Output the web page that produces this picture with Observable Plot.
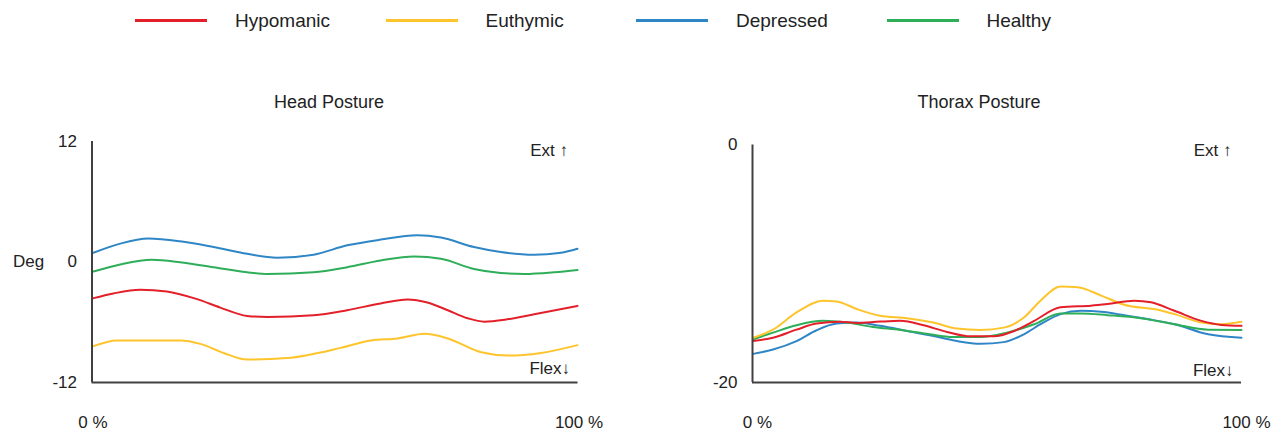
<!DOCTYPE html>
<html>
<head>
<meta charset="utf-8">
<script src="https://cdn.jsdelivr.net/npm/d3@7"></script>
<script src="https://cdn.jsdelivr.net/npm/@observablehq/plot@0.6"></script>
<style>
  html, body { margin: 0; padding: 0; background: #fff; }
  body { width: 1272px; height: 433px; position: relative; overflow: hidden;
         font-family: "Liberation Sans", Arial, sans-serif; color: #222; }
  #legend { position: absolute; left: 0; top: 0; width: 1272px; height: 40px; }
  .item { position: absolute; top: 9px; height: 24px; }
  .swatch { position: absolute; top: 10px; width: 72px; height: 3px; }
  .label { position: absolute; left: 100px; top: 0; font-size: 19px; line-height: 24px; white-space: nowrap; }
  #head { position: absolute; left: 0; top: 80px; }
  #thorax { position: absolute; left: 636px; top: 80px; }
</style>
</head>
<body>
<div id="legend"></div>
<div id="head"></div>
<div id="thorax"></div>
<script>
// Groups and their line colours
const groups = ["Hypomanic", "Euthymic", "Depressed", "Healthy"];
const groupColors = ["#e3202a", "#fdc42c", "#2f86c6", "#2fae5a"];

// Gait cycle (%) vs. angle (deg) — head posture
const headHypomanic = [[0.3,-3.60],[4.4,-3.13],[9.9,-2.76],[15.4,-2.93],[21.6,-3.70],[26.4,-4.54],[31.9,-5.37],[36.1,-5.47],[45.6,-5.30],[52.5,-4.80],[59.4,-4.13],[64.9,-3.73],[69.0,-4.03],[73.2,-4.80],[77.3,-5.60],[80.7,-5.94],[85.5,-5.70],[91.0,-5.20],[99.9,-4.37]];
const headEuthymic = [[0.3,-8.38],[5.1,-7.81],[18.1,-7.81],[22.3,-8.15],[27.1,-9.06],[31.9,-9.72],[40.2,-9.56],[51.2,-8.55],[57.4,-7.81],[62.9,-7.61],[68.4,-7.15],[73.2,-7.61],[80.1,-8.99],[85.6,-9.32],[92.4,-9.06],[99.9,-8.28]];
const headDepressed = [[0.3,0.92],[5.8,1.83],[11.6,2.33],[18.1,2.06],[25.0,1.49],[31.9,0.82],[38.1,0.42],[45.6,0.72],[52.5,1.66],[59.4,2.23],[66.9,2.66],[71.8,2.43],[78.6,1.49],[84.1,0.99],[91.0,0.72],[96.5,0.92],[99.9,1.32]];
const headHealthy = [[0.3,-0.95],[5.8,-0.25],[12.3,0.22],[18.1,-0.02],[25.0,-0.52],[31.9,-1.02],[36.1,-1.19],[45.6,-1.02],[52.5,-0.52],[59.4,0.15],[66.3,0.55],[71.8,0.32],[78.6,-0.69],[84.1,-1.09],[88.9,-1.19],[95.1,-1.02],[99.9,-0.79]];

// Gait cycle (%) vs. angle (deg) — thorax posture
const thoraxHypomanic = [[0.1,-16.51],[4.2,-16.23],[9.0,-15.55],[13.1,-15.04],[17.9,-14.89],[21.3,-14.98],[26.1,-14.87],[30.2,-14.81],[35.0,-15.18],[39.8,-15.74],[44.6,-16.11],[49.4,-16.11],[53.5,-15.66],[57.6,-14.81],[63.0,-13.67],[69.2,-13.53],[72.6,-13.39],[78.1,-13.11],[81.5,-13.25],[86.3,-13.96],[91.8,-14.81],[95.9,-15.15],[100,-15.23]];
const thoraxEuthymic = [[0.1,-16.23],[4.2,-15.55],[9.0,-14.10],[14.4,-13.11],[17.2,-13.17],[21.3,-13.81],[26.1,-14.38],[31.6,-14.58],[37.0,-14.95],[41.8,-15.46],[46.6,-15.57],[51.4,-15.38],[55.5,-14.53],[58.9,-13.11],[63.0,-11.91],[66.5,-11.97],[71.3,-12.68],[76.0,-13.45],[82.9,-13.87],[86.3,-14.24],[91.8,-14.95],[95.9,-15.09],[100,-14.89]];
const thoraxDepressed = [[0.1,-17.59],[4.2,-17.22],[9.0,-16.51],[13.1,-15.60],[17.2,-15.04],[21.3,-14.95],[26.1,-15.23],[31.6,-15.66],[37.0,-16.09],[41.8,-16.51],[46.6,-16.74],[51.4,-16.60],[55.5,-15.94],[58.9,-15.09],[63.0,-14.24],[67.2,-13.96],[71.3,-14.04],[76.0,-14.33],[80.8,-14.66],[86.3,-15.09],[93.2,-15.94],[100,-16.23]];
const thoraxHealthy = [[0.1,-16.37],[4.2,-15.80],[9.0,-15.18],[14.4,-14.81],[19.2,-14.95],[24.6,-15.32],[30.2,-15.57],[35.6,-15.89],[41.1,-16.17],[46.6,-16.17],[52.0,-15.80],[57.6,-15.09],[63.0,-14.19],[67.2,-14.19],[72.6,-14.33],[79.4,-14.58],[86.3,-15.09],[93.2,-15.55],[100,-15.57]];

// Axis ticks
const xTicks = [0, 100];
const headTicks = [-12, 0, 12];
const thoraxTicks = [-20, 0];

// Build long-format rows; drawing order puts the red line on top
function rows(bySeries) {
  const order = ["Depressed", "Healthy", "Euthymic", "Hypomanic"];
  return order.flatMap(g => bySeries[g].map(([pct, deg]) => ({group: g, pct, deg})));
}

// Legend
const legend = document.getElementById("legend");
groups.forEach((g, i) => {
  const item = document.createElement("div");
  item.className = "item";
  item.style.left = (135 + i * 250.5) + "px";
  const sw = document.createElement("div");
  sw.className = "swatch";
  sw.style.background = groupColors[i];
  const lb = document.createElement("div");
  lb.className = "label";
  lb.textContent = g;
  item.append(sw, lb);
  legend.append(item);
});

const axisColor = "#404040";

function posturePlot({data, yDomain, yTicks, title, titleDx, titleDy, marginLeft, marginRight, marginTop, showDeg, extDy, flexDy, xLabelDx}) {
  const marks = [
    Plot.axisY({ticks: yTicks, tickSize: 0, tickPadding: 15, label: null, fontSize: 17, tickFormat: d => String(d)}),
    Plot.axisX({ticks: xTicks, tickSize: 0, tickPadding: 33, label: null, fontSize: 17, dx: xLabelDx, tickFormat: d => `${d} %`}),
    Plot.line(data, {x: "pct", y: "deg", z: "group", stroke: "group", strokeWidth: 2, curve: "monotone-x"}),
    Plot.ruleX([0], {stroke: axisColor, strokeWidth: 2}),
    Plot.ruleY([yDomain[0]], {stroke: axisColor, strokeWidth: 2}),
    Plot.text([title], {text: d => d, frameAnchor: "top", lineAnchor: "middle", dx: titleDx, dy: titleDy, fontSize: 18, fill: "#222"}),
    Plot.text(["Ext ↑"], {text: d => d, frameAnchor: "top-right", lineAnchor: "middle", textAnchor: "end", dx: -10, dy: extDy, fontSize: 17, fill: "#222"}),
    Plot.text(["Flex↓"], {text: d => d, frameAnchor: "bottom-right", lineAnchor: "middle", textAnchor: "end", dx: -8, dy: flexDy, fontSize: 17, fill: "#222"})
  ];
  if (showDeg) {
    marks.push(Plot.text(["Deg"], {text: d => d, frameAnchor: "left", textAnchor: "start", dx: -79, fontSize: 17, fill: "#222"}));
  }
  return Plot.plot({
    width: 636,
    height: 353,
    marginLeft,
    marginRight,
    marginTop,
    marginBottom: 51,
    x: {domain: [0, 100]},
    y: {domain: yDomain},
    color: {domain: groups, range: groupColors},
    style: {fontFamily: "'Liberation Sans', Arial, sans-serif", fontSize: "17px", color: "#222", background: "#fff", overflow: "visible"},
    marks
  });
}

document.getElementById("head").append(posturePlot({
  data: rows({Hypomanic: headHypomanic, Euthymic: headEuthymic, Depressed: headDepressed, Healthy: headHealthy}),
  yDomain: [-12, 12], yTicks: headTicks,
  title: "Head Posture", titleDx: -6, titleDy: -39,
  marginLeft: 91.5, marginRight: 58.5, marginTop: 61,
  showDeg: true, extDy: 9, flexDy: -14, xLabelDx: 1
}));

document.getElementById("thorax").append(posturePlot({
  data: rows({Hypomanic: thoraxHypomanic, Euthymic: thoraxEuthymic, Depressed: thoraxDepressed, Healthy: thoraxHealthy}),
  yDomain: [-20, 0], yTicks: thoraxTicks,
  title: "Thorax Posture", titleDx: -18, titleDy: -42.5,
  marginLeft: 116, marginRight: 31, marginTop: 64.5,
  showDeg: false, extDy: 6, flexDy: -12, xLabelDx: 5
}));
</script>
</body>
</html>
